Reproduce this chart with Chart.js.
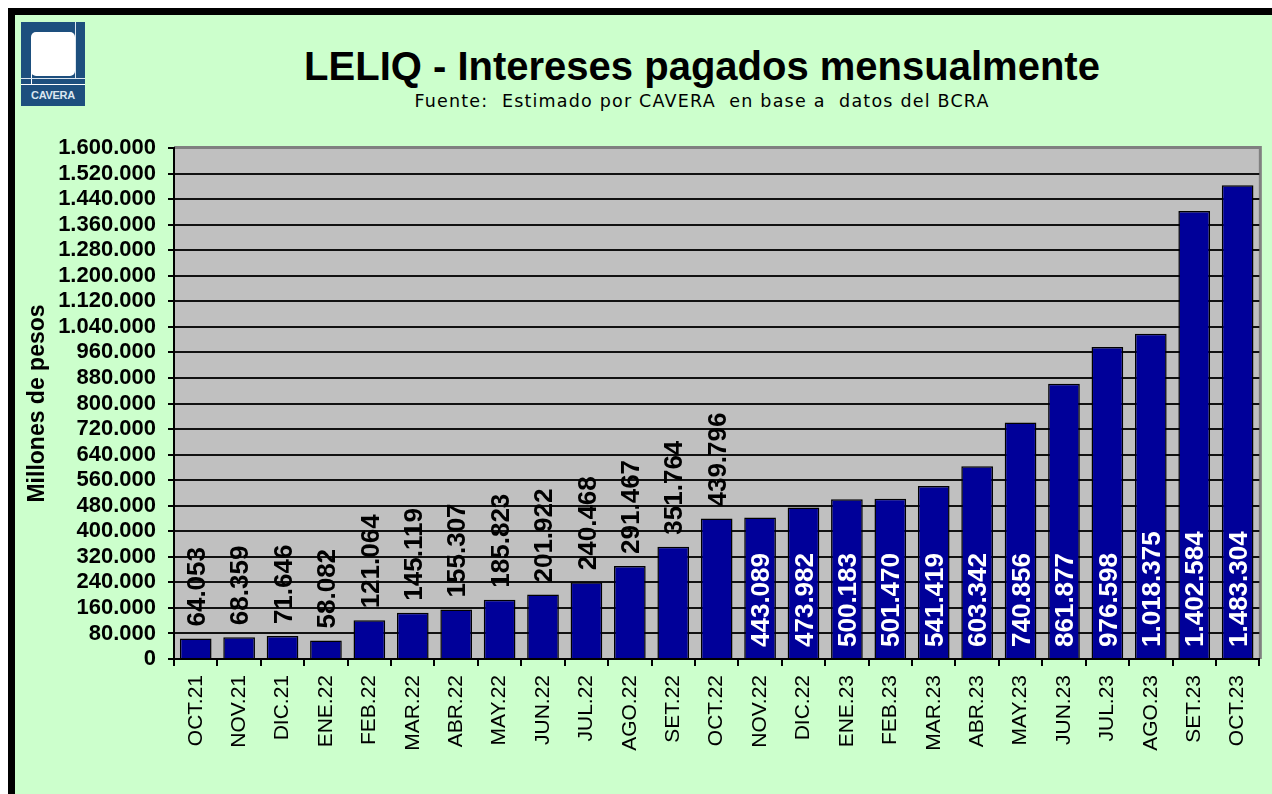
<!DOCTYPE html>
<html lang="es">
<head>
<meta charset="utf-8">
<title>LELIQ - Intereses pagados mensualmente</title>
<script src="https://cdn.jsdelivr.net/npm/chart.js"></script>
<style>
    body { margin: 0; background: #fff; overflow: hidden; }
    .frame {
        position: absolute; left: 8px; top: 8px; width: 1300px; height: 820px;
        border-left: 7px solid #000; border-top: 7px solid #000; background: #ccffcc;
    }
    .logo {
        position: absolute; left: 21px; top: 22px; width: 64px; height: 84px; background: #1d4f7e;
    }
    .logo .sq { position: absolute; left: 10px; top: 10px; width: 44px; height: 44px; background: #fff; border-radius: 5px; }
    .logo .vl { position: absolute; left: 10px; top: 40px; width: 1px; height: 22px; background: #fff; }
    .logo .vr { position: absolute; left: 54px; top: 0; width: 1px; height: 56px; background: #dbe6f0; }
    .logo .hl { position: absolute; left: 0; top: 56px; width: 64px; height: 1px; background: #dbe6f0; }
    .logo .hb { position: absolute; left: 0; top: 62px; width: 64px; height: 1px; background: #fff; }
    .logo .txt {
        position: absolute; left: 0; top: 67px; width: 64px; text-align: center; color: #dbe6f0;
        font: bold 11px "Liberation Sans", Arial, sans-serif; letter-spacing: -0.3px;
    }
    .title {
        position: absolute; left: 252px; width: 900px; top: 46px; text-align: center;
        font: bold 40px/1 "Liberation Sans", Arial, sans-serif; color: #000;
    }
    .subtitle {
        position: absolute; left: 352px; width: 700px; top: 91px; text-align: center; white-space: pre;
        font: 17.5px/1.2 "DejaVu Sans", sans-serif; letter-spacing: 1.2px; color: #000;
    }
    canvas { position: absolute; left: 0; top: 0; }
</style>
</head>
<body>
<div class="frame"></div>
<div class="logo">
    <div class="sq"></div><div class="vl"></div><div class="vr"></div><div class="hl"></div><div class="hb"></div>
    <div class="txt">CAVERA</div>
</div>
<div class="title">LELIQ - Intereses pagados mensualmente</div>
<div class="subtitle">Fuente:  Estimado por CAVERA  en base a  datos del BCRA</div>
<canvas id="leliqChart" width="1272" height="794"></canvas>

<script>
    // meses y millones de pesos
    const meses = ['OCT.21', 'NOV.21', 'DIC.21', 'ENE.22', 'FEB.22', 'MAR.22', 'ABR.22', 'MAY.22', 'JUN.22',
        'JUL.22', 'AGO.22', 'SET.22', 'OCT.22', 'NOV.22', 'DIC.22', 'ENE.23', 'FEB.23', 'MAR.23', 'ABR.23',
        'MAY.23', 'JUN.23', 'JUL.23', 'AGO.23', 'SET.23', 'OCT.23']
    const intereses = [64053, 68359, 71646, 58082, 121064, 145119, 155307, 185823, 201922,
        240468, 291467, 351764, 439796, 443089, 473982, 500183, 501470, 541419, 603342,
        740856, 861877, 976598, 1018375, 1402584, 1483304]
    // desde NOV.22 la etiqueta va dentro de la barra
    const primeraEtiquetaInterna = 13
    const ejeMin = 0
    const ejeMax = 1600000
    const ejePaso = 80000

    function fmt(v) {
        return String(v).replace(/\B(?=(\d{3})+(?!\d))/g, '.')
    }

    Chart.defaults.font.family = '"Liberation Sans", Arial, sans-serif'
    Chart.defaults.color = '#000'

    const plotFrame = {
        id: 'plotFrame',
        beforeDraw(chart) {
            const {ctx, chartArea: a} = chart
            ctx.save()
            ctx.fillStyle = '#c0c0c0'
            ctx.fillRect(a.left, a.top, a.right - a.left, a.bottom - a.top)
            ctx.strokeStyle = '#808080'
            ctx.lineWidth = 3
            ctx.beginPath()
            ctx.moveTo(a.left, a.top - 0.5)
            ctx.lineTo(a.right + 1, a.top - 0.5)
            ctx.lineTo(a.right + 1, a.bottom)
            ctx.stroke()
            ctx.restore()
        }
    }

    const valueLabels = {
        id: 'valueLabels',
        afterDatasetsDraw(chart) {
            const ctx = chart.ctx
            const meta = chart.getDatasetMeta(0)
            ctx.save()
            ctx.font = 'bold 26px "Liberation Sans", Arial, sans-serif'
            ctx.textBaseline = 'middle'
            ctx.textAlign = 'left'
            meta.data.forEach((bar, i) => {
                const inside = i >= primeraEtiquetaInterna
                ctx.save()
                ctx.translate(bar.x + 2, inside ? bar.base - 11 : bar.y - 12)
                ctx.rotate(-Math.PI / 2)
                ctx.fillStyle = inside ? '#fff' : '#000'
                ctx.fillText(fmt(intereses[i]), 0, 0)
                ctx.restore()
            })
            ctx.restore()
        }
    }

    const leliqChart = new Chart(document.getElementById('leliqChart'), {
        type: 'bar',
        data: {
            labels: meses,
            datasets: [{
                data: intereses,
                backgroundColor: '#000099',
                borderColor: '#000',
                borderWidth: 1.5,
                barPercentage: 0.73,
                categoryPercentage: 1
            }]
        },
        options: {
            responsive: false,
            devicePixelRatio: 1,
            animation: false,
            layout: {
                padding: {top: 148, right: 9, bottom: 0, left: 16}
            },
            plugins: {
                legend: {display: false},
                tooltip: {enabled: false}
            },
            scales: {
                x: {
                    afterFit: s => { s.height = 135 },
                    border: {color: '#000', width: 2},
                    grid: {drawOnChartArea: false, color: '#000', lineWidth: 2, tickLength: 7},
                    ticks: {
                        autoSkip: false, minRotation: 90, maxRotation: 90, padding: 9,
                        font: {size: 21}, color: '#000'
                    }
                },
                y: {
                    min: ejeMin,
                    max: ejeMax,
                    afterFit: s => { s.width = 158 },
                    border: {color: '#000', width: 2},
                    grid: {
                        color: c => c.tick && c.tick.value === ejeMax ? 'rgba(0,0,0,0)' : '#111',
                        tickColor: '#000',
                        lineWidth: 2,
                        tickLength: 6
                    },
                    ticks: {
                        autoSkip: false,
                        stepSize: ejePaso,
                        padding: 12,
                        font: {size: 22, weight: 'bold'},
                        color: '#000',
                        callback: v => fmt(v)
                    },
                    title: {
                        display: true,
                        text: 'Millones de pesos',
                        font: {size: 23, weight: 'bold'},
                        color: '#000',
                        padding: {top: 8, bottom: 0}
                    }
                }
            }
        },
        plugins: [plotFrame, valueLabels]
    })
</script>
</body>
</html>
